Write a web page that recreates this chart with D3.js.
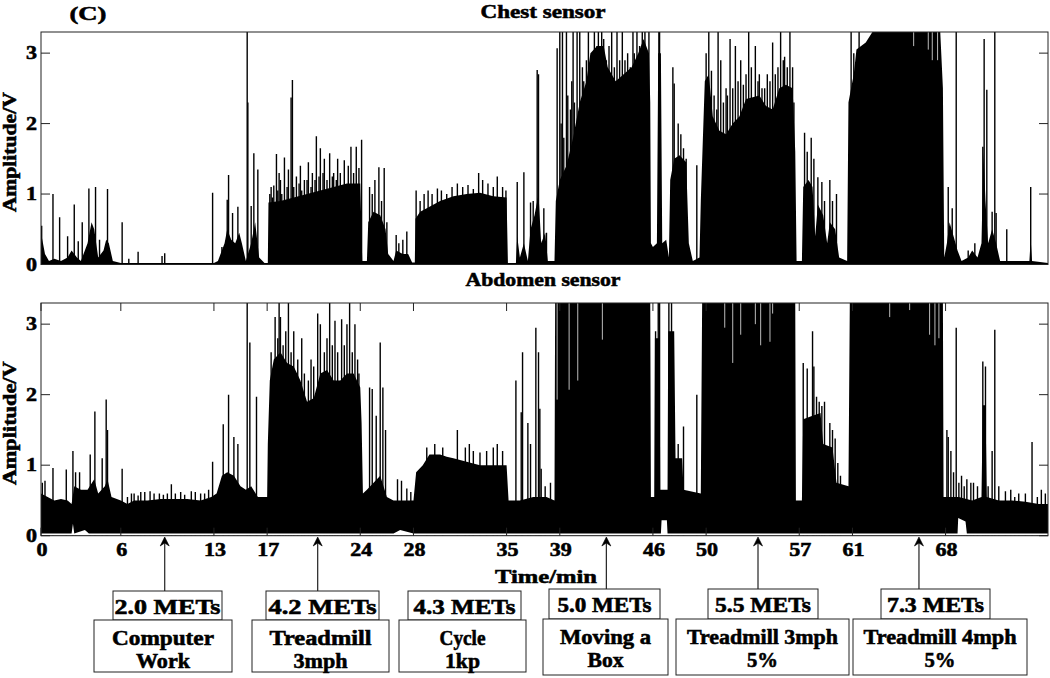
<!DOCTYPE html>
<html><head><meta charset="utf-8">
<script src="https://cdn.jsdelivr.net/npm/d3@7"></script>
<style>
body{margin:0;background:#fff}
svg{display:block}
text{font-family:"Liberation Serif","Times New Roman",serif;font-weight:bold;fill:#000;stroke:#000;stroke-width:0.55px}
</style>
</head><body>
<svg id="c" width="1050" height="678"></svg>
<script>
// ---------------- DATA ----------------
const xTicks = [0,6,13,17,24,28,35,39,46,50,57,61,68];
const yTicks = [0,1,2,3];
const timeMax = 75.7;
const ampMax = 3.3;

// Chest sensor: envelope of the dense (solid) part [time min, amplitude V]
const chestFill = [[0,0.45],[0.3,0.15],[0.6,0.05],[1.0,0.08],[1.5,0.05],[2.0,0.1],[2.3,0.2],[2.7,0.1],[3.0,0.05],[3.5,0.3],[3.8,0.6],[4.0,0.5],[4.3,0.1],[4.7,0.2],[4.9,0.35],[5.1,0.3],[5.4,0.05],[6.0,0.02],[13.0,0.02],[13.3,0.05],[13.8,0.3],[14.0,0.5],[14.3,0.35],[14.6,0.3],[14.9,0.45],[15.1,0.3],[15.4,0.05],[15.8,0.3],[16.1,0.6],[16.4,0.1],[16.8,0.02],[17.05,0.02],[17.1,0.88],[18,0.9],[19,0.95],[20,1.0],[21,1.05],[22,1.1],[23,1.15],[24,1.15],[24.15,0.05],[24.5,0.05],[24.6,0.6],[25.0,0.75],[25.5,0.7],[25.9,0.5],[26.1,0.15],[26.5,0.05],[26.7,0.2],[27.2,0.15],[27.6,0.15],[27.9,0.03],[28.1,0.03],[28.15,0.65],[28.5,0.75],[29,0.8],[30,0.9],[31,0.97],[32,1.0],[33,1.02],[34,0.97],[35.0,0.95],[35.1,0.02],[35.7,0.02],[35.8,0.4],[36.0,0.1],[36.3,0.3],[36.6,0.05],[36.8,0.5],[37.1,0.7],[37.4,1.0],[37.6,0.3],[37.9,0.45],[38.1,0.05],[38.6,0.05],[38.7,0.9],[39.0,1.2],[39.5,1.4],[40.0,1.8],[40.5,2.3],[41.0,2.6],[41.3,3.0],[41.8,3.1],[42.3,3.1],[42.6,2.8],[43.2,2.6],[43.8,2.7],[44.4,2.8],[44.9,3.0],[45.3,3.2],[45.7,3.0],[45.8,2.3],[45.85,0.3],[46.0,0.25],[46.3,0.3],[46.4,3.0],[46.6,3.0],[46.7,0.3],[47.0,0.35],[47.2,0.1],[47.3,1.2],[47.6,1.5],[48.0,1.55],[48.5,1.45],[48.7,0.3],[49.0,0.05],[49.5,0.1],[49.6,0.9],[49.9,2.6],[50.2,2.7],[50.5,2.1],[51,1.9],[51.5,1.85],[52,2.0],[52.5,2.1],[53,2.35],[54,2.4],[54.5,2.25],[55,2.2],[55.5,2.5],[56,2.55],[56.5,2.5],[56.7,1.6],[56.8,0.05],[57.2,0.05],[57.3,1.1],[57.7,1.2],[58.0,1.1],[58.2,0.4],[58.4,0.85],[58.8,0.7],[59.1,0.3],[59.3,0.6],[59.7,0.5],[60.0,0.1],[60.6,0.05],[60.7,2.3],[60.9,2.5],[61.1,2.7],[61.3,3.05],[62.0,3.15],[62.5,3.3],[67.6,3.3],[67.8,2.5],[67.9,0.1],[68.1,0.3],[68.3,0.6],[68.6,0.4],[68.9,0.2],[69.2,0.05],[69.7,0.1],[70.0,0.2],[70.4,0.1],[70.7,0.3],[70.85,1.6],[71.0,0.9],[71.2,0.3],[71.5,0.5],[71.8,0.3],[72.1,0.05],[72.5,0.05],[74.3,0.05],[74.4,0.35],[74.5,0.05],[75.7,0.02]];

// Chest sensor: individual peaks [time, amplitude]
const chestSpikes = [[0.05,0.55],[0.9,1.0],[1.4,0.67],[2.0,0.4],[2.5,0.85],[2.8,0.33],[3.1,0.6],[3.6,1.08],[4.1,1.1],[4.4,0.35],[5.0,1.07],[6.1,0.6],[6.6,0.08],[7.3,0.18],[9.1,0.12],[9.3,0.16],[12.9,1.02],[13.6,0.25],[14.0,0.92],[14.1,1.27],[14.4,0.73],[14.8,0.82],[15.5,3.3],[15.55,2.3],[15.8,0.83],[16.0,1.58],[16.3,1.35],
[17.2,1.0],[17.3,1.1],[17.4,0.95],[17.5,1.12],[17.7,1.57],[17.8,1.05],[17.9,1.3],[18.0,1.2],[18.1,1.0],[18.3,1.52],[18.5,1.1],[18.6,1.35],[18.8,2.37],[18.9,2.62],[19.0,1.1],[19.2,1.25],[19.4,1.15],[19.5,1.4],[19.6,1.05],[19.8,1.2],[20.0,1.2],[20.1,1.45],[20.3,1.1],[20.4,1.3],[20.6,1.2],[20.7,1.82],[20.9,1.25],[21.0,1.65],[21.2,1.3],[21.3,1.5],[21.5,1.2],[21.7,1.58],[21.9,1.25],[22.0,1.3],[22.2,1.2],[22.3,1.5],[22.5,1.3],[22.8,1.48],[23.1,1.4],[23.3,1.67],[23.5,1.3],[23.7,1.67],[23.9,1.37],[24.1,1.77],
[24.7,1.1],[24.9,1.0],[25.1,1.2],[25.4,1.38],[25.6,0.9],[25.8,1.37],[26.0,0.6],[26.7,0.42],[26.9,0.3],[27.2,0.35],[27.5,0.47],
[28.2,1.05],[28.5,0.9],[28.8,1.0],[29.1,1.05],[29.4,1.0],[29.8,1.08],[30.1,1.05],[30.5,1.0],[30.9,1.1],[31.3,1.15],[31.7,1.1],[32.1,1.13],[32.5,1.07],[32.9,1.3],[33.2,1.2],[33.6,1.15],[34.0,1.1],[34.3,1.25],[34.7,1.1],[34.95,1.05],
[35.8,1.17],[36.3,1.31],[36.8,0.88],[37.0,0.9],[37.3,2.76],[37.4,2.7],[37.7,0.33],[37.8,0.8],[38.0,0.45],
[38.8,3.07],[39.0,3.3],[39.1,2.0],[39.2,3.3],[39.3,1.8],[39.5,3.3],[39.6,2.4],[39.8,2.2],[39.9,2.6],[40.0,3.3],[40.1,2.3],[40.3,3.3],[40.5,3.3],[40.7,2.8],[40.8,2.6],[41.0,2.9],[41.15,3.3],[41.3,2.8],[41.6,3.3],[41.8,3.1],[41.9,3.3],[42.0,3.0],[42.15,3.3],[42.3,3.2],[42.5,2.9],[42.7,3.1],[42.9,3.3],[43.1,2.8],[43.3,3.3],[43.5,2.9],[43.7,3.3],[43.9,2.9],[44.1,3.0],[44.3,2.8],[44.5,3.3],[44.6,3.0],[44.8,3.3],[45.0,3.1],[45.2,3.3],[45.4,3.3],[45.6,3.0],[45.7,3.3],
[46.45,3.3],[46.5,3.3],[47.5,2.8],[47.6,2.57],[47.9,2.0],[48.1,1.85],[48.3,1.65],[48.5,1.5],[49.3,1.41],
[50.0,3.0],[50.2,3.3],[50.4,2.75],[50.6,2.4],[50.8,2.2],[50.9,3.3],[51.1,2.9],[51.3,2.3],[51.5,2.5],[51.6,2.4],[51.8,3.2],[52.0,2.5],[52.2,3.1],[52.4,2.6],[52.6,2.9],[52.8,2.55],[53.0,2.7],[53.2,3.3],[53.4,2.8],[53.7,3.1],[53.9,2.6],[54.0,2.7],[54.2,2.5],[54.4,2.5],[54.6,2.7],[54.8,2.6],[55.0,3.15],[55.2,2.7],[55.4,2.8],[55.6,3.3],[55.8,2.9],[55.9,2.95],[56.1,2.8],[56.3,3.3],[56.5,2.8],[56.6,2.3],
[57.4,1.87],[57.6,1.6],[57.9,1.8],[58.1,1.5],[58.4,1.24],[58.7,1.17],[58.9,0.9],[59.3,1.2],[59.5,0.9],[59.8,1.0],
[60.9,3.3],[61.1,3.0],[61.5,3.3],
[68.2,1.1],[68.5,0.8],[68.8,3.3],[69.7,0.2],[70.2,0.3],[70.8,1.67],[70.9,3.2],[71.1,2.48],[71.5,0.75],[71.7,3.3],[71.8,0.73],[72.6,0.5],[74.4,1.1]];

// Chest sensor: narrow gaps reaching down from the top inside saturated blocks
const chestDips = [[65.6,3.1],[66.7,3.05],[67.0,2.9],[67.4,2.9]];

// Abdomen sensor: envelope of the dense part
const abdomenFill = [[0,0.6],[0.5,0.55],[1,0.5],[1.5,0.52],[2,0.5],[2.3,0.45],[2.5,0.7],[3,0.65],[3.5,0.65],[4.0,0.8],[4.3,0.6],[4.8,0.7],[5.0,0.8],[5.3,0.55],[6,0.5],[6.5,0.45],[7,0.5],[8,0.5],[9,0.52],[10,0.52],[11,0.52],[12,0.5],[12.8,0.55],[13.2,0.6],[13.6,0.85],[14.0,0.9],[14.5,0.85],[15.0,0.7],[15.4,0.65],[15.8,0.7],[16.3,0.55],[17.0,0.55],[17.05,1.3],[17.2,2.2],[17.5,2.5],[18,2.6],[18.5,2.45],[19,2.4],[19.5,2.2],[20,1.9],[20.5,1.95],[21,2.3],[21.5,2.35],[22,2.2],[22.5,2.2],[23,2.3],[23.5,2.3],[24.0,2.1],[24.1,1.6],[24.2,0.6],[24.5,0.65],[25,0.75],[25.5,0.85],[26.0,0.55],[26.5,0.5],[27,0.5],[28.0,0.5],[28.2,0.9],[28.7,1.0],[29.2,1.15],[30,1.15],[30.5,1.12],[31,1.1],[32,1.05],[33,1.0],[34,1.0],[35.0,1.0],[35.15,0.5],[36,0.5],[37,0.55],[38,0.55],[38.6,0.5],[38.65,3.3],[45.8,3.3],[45.85,0.55],[46.1,0.55],[46.15,2.8],[46.5,2.8],[46.55,0.65],[47.1,0.65],[47.15,2.9],[47.6,2.9],[47.7,1.1],[48.2,1.1],[48.3,0.65],[49.6,0.6],[49.7,3.3],[56.7,3.3],[56.75,0.5],[57.2,0.5],[57.3,1.65],[58,1.7],[58.6,1.74],[58.8,1.3],[59.5,1.25],[59.8,0.75],[60.7,0.7],[60.8,3.3],[67.8,3.3],[67.85,0.55],[69,0.55],[70,0.5],[70.7,0.55],[70.8,1.85],[71.0,1.85],[71.1,0.55],[72,0.5],[73,0.5],[74,0.48],[75,0.45],[75.7,0.45]];

// Abdomen sensor: individual peaks
const abdomenSpikes = [[0.1,0.75],[0.3,0.78],[0.9,0.96],[1.9,0.94],[2.4,1.2],[2.6,0.9],[2.9,0.9],[3.7,1.15],[4.05,1.76],[4.6,1.1],[4.9,1.93],[5.0,1.5],[6.1,0.95],[6.5,0.55],[6.8,0.6],[7.0,0.6],[7.3,0.57],[7.5,0.62],[7.8,0.62],[8.2,0.63],[8.5,0.6],[8.9,0.6],[9.2,0.58],[9.5,0.6],[9.8,0.73],[10.1,0.6],[10.5,0.62],[10.8,0.58],[11.3,0.63],[11.6,0.62],[12.0,0.6],[12.3,0.6],[12.6,0.65],[12.9,1.05],[13.7,1.58],[14.1,2.0],[14.5,1.4],[14.8,1.3],[15.5,3.3],[15.7,2.74],[16.2,1.97],
[17.3,2.6],[17.6,3.1],[17.8,2.8],[17.9,3.3],[18.0,3.1],[18.2,2.7],[18.4,2.9],[18.6,3.3],[18.8,2.6],[19.0,2.9],[19.3,2.5],[19.6,2.8],[19.8,2.3],[20.1,2.2],[20.3,2.5],[20.5,2.4],[20.8,3.15],[21.0,3.0],[21.3,2.6],[21.5,2.8],[21.7,3.3],[21.9,2.7],[22.1,3.05],[22.3,2.6],[22.6,3.07],[22.8,2.7],[23.0,3.0],[23.2,3.3],[23.4,2.6],[23.6,3.0],[23.8,2.5],[23.9,2.3],
[24.7,2.1],[24.9,2.08],[25.2,1.7],[25.5,2.74],[25.7,2.1],[25.9,1.5],[26.8,0.8],[27.1,0.78],[27.5,0.67],[27.8,0.62],
[29.0,1.25],[29.6,1.3],[30.2,1.25],[31.3,1.5],[31.9,1.25],[32.2,1.3],[32.5,1.2],[33.0,1.18],[33.5,1.2],[34.0,1.25],[34.3,1.3],[34.7,1.2],
[35.7,2.2],[36.1,1.75],[36.2,2.6],[36.6,1.6],[36.8,1.3],[37.2,2.95],[37.4,2.6],[37.5,1.8],[37.6,0.95],[37.9,0.7],[38.3,0.75],
[46.2,2.9],[46.4,3.3],[46.5,3.3],[47.2,3.3],[47.4,3.3],[47.9,1.3],[48.3,1.55],[49.3,2.0],
[57.3,2.45],[57.6,2.37],[58.0,2.9],[58.1,2.4],[58.3,1.97],[58.5,1.9],[58.7,1.84],[58.9,1.9],[59.3,1.6],[59.5,1.5],[59.7,1.38],[59.9,1.03],[60.1,0.85],
[68.1,1.5],[68.2,1.4],[68.4,1.2],[68.6,0.9],[68.8,2.95],[69.0,0.75],[69.2,0.85],[69.4,0.7],[69.6,0.8],[69.9,0.75],[70.1,0.75],[70.4,0.7],[70.8,2.47],[71.0,2.4],[71.2,0.7],[71.5,1.2],[71.7,2.92],[72.0,0.7],[72.5,0.63],[72.9,0.65],[73.2,0.55],[73.5,0.6],[74.0,0.6],[74.5,1.33],[74.9,0.55],[75.2,0.65],[75.5,0.6]];

// Abdomen sensor: gaps from the top inside saturated blocks
const abdomenDips = [[38.8,1.93],[39.7,2.07],[40.35,2.2],[42.2,2.78],[51.4,2.95],[52.0,2.45],[52.6,2.85],[53.7,3.0],[54.1,2.7],[54.8,2.75],[55.0,3.15],[63.8,3.1],[65.3,3.2],[66.8,2.85],[67.2,2.7],[67.5,2.8]];

// Abdomen sensor: signal minimum above zero (white floor)
const abdomenFloor = [[0,0.03],[2.3,0.03],[2.4,0.17],[2.5,0.03],[3.3,0.08],[3.6,0.03],[26.5,0.03],[27,0.08],[28,0.03],[46.6,0.03],[46.65,0.22],[47.05,0.22],[47.1,0.03],[68.9,0.03],[68.95,0.25],[69.5,0.2],[69.6,0.03],[75.7,0.03]];

// Annotations
const metsLabels = ["2.0 METs","4.2 METs","4.3 METs","5.0 METs","5.5 METs","7.3 METs"];
const activityLines = [["Computer","Work"],["Treadmill","3mph"],["Cycle","1kp"],["Moving a","Box"],["Treadmill 3mph","5%"],["Treadmill 4mph","5%"]];
const arrowTimes = [9.3,20.8,null,42.5,53.9,66.0];

// ---------------- LAYOUT ----------------
const left = 41, right = 1048;
const panels = [
  {top:32, bottom:264.5, fill:chestFill, spikes:chestSpikes, dips:chestDips, floor:null,
   title:"Chest sensor", titleY:18, titleW:125, ylabelW:120, xticks:false},
  {top:303, bottom:535.7, fill:abdomenFill, spikes:abdomenSpikes, dips:abdomenDips, floor:abdomenFloor,
   title:"Abdomen sensor", titleY:286, titleW:155, ylabelW:124, xticks:true}
];
const boxLayout = [
  {m:[113,222], d:[94,232], mt:591, mb:620, db:672, mw:106, dw:[102,54]},
  {m:[266,379], d:[252,389], mt:591, mb:620, db:672, mw:108, dw:[102,54]},
  {m:[408,521], d:[399,526], mt:591, mb:620, db:672, mw:102, dw:[46,35]},
  {m:[549,660], d:[543,668], mt:589, mb:619, db:675, mw:94,  dw:[91,36]},
  {m:[708,818], d:[676,849], mt:589, mb:619, db:675, mw:96,  dw:[151,31]},
  {m:[881,990], d:[853,1027], mt:589, mb:619, db:675, mw:97, dw:[153,31]}
];

const svg = d3.select("#c");
const x = d3.scaleLinear().domain([0,timeMax]).range([left,right]);

svg.append("text").attr("x",88).attr("y",20).attr("text-anchor","middle")
  .attr("font-size",19).attr("textLength",37).attr("lengthAdjust","spacingAndGlyphs").text("(C)");

panels.forEach((p,i)=>{
  const y = d3.scaleLinear().domain([0,ampMax]).range([p.bottom,p.top]);
  const g = svg.append("g");
  const cid = "clip"+i;
  svg.append("clipPath").attr("id",cid).append("rect")
    .attr("x",left).attr("y",p.top).attr("width",right-left).attr("height",p.bottom-p.top);
  const plot = g.append("g").attr("clip-path",`url(#${cid})`);

  const area = d3.area().x(d=>x(d[0])).y0(y(0)).y1(d=>y(d[1]));
  plot.append("path").datum(p.fill).attr("d",area).attr("fill","#000");

  plot.selectAll("line.sp").data(p.spikes).join("line").attr("class","sp")
    .attr("x1",d=>x(d[0])).attr("x2",d=>x(d[0]))
    .attr("y1",y(0)).attr("y2",d=>y(d[1]))
    .attr("stroke","#000").attr("stroke-width",1.4);

  plot.selectAll("line.dp").data(p.dips).join("line").attr("class","dp")
    .attr("x1",d=>x(d[0])).attr("x2",d=>x(d[0]))
    .attr("y1",y(ampMax)).attr("y2",d=>y(d[1]))
    .attr("stroke","#bbb").attr("stroke-width",1);

  if(p.floor){
    plot.append("path").datum(p.floor).attr("d",area).attr("fill","#fff");
  }

  g.append("rect").attr("x",left).attr("y",p.top).attr("width",right-left).attr("height",p.bottom-p.top)
    .attr("fill","none").attr("stroke","#222").attr("stroke-width",1);

  yTicks.forEach(v=>{
    g.append("line").attr("x1",left).attr("x2",left+9).attr("y1",y(v)).attr("y2",y(v)).attr("stroke","#222");
    g.append("line").attr("x1",right-9).attr("x2",right).attr("y1",y(v)).attr("y2",y(v)).attr("stroke","#222");
    g.append("text").attr("x",37).attr("y",y(v)).attr("dy","0.34em").attr("text-anchor","end")
      .attr("font-size",18).attr("textLength",11).attr("lengthAdjust","spacingAndGlyphs").text(v);
  });

  if(p.xticks){
    xTicks.forEach(v=>{
      g.append("line").attr("x1",x(v)).attr("x2",x(v)).attr("y1",p.bottom).attr("y2",p.bottom-8).attr("stroke","#222");
      g.append("line").attr("x1",x(v)).attr("x2",x(v)).attr("y1",p.top).attr("y2",p.top+8).attr("stroke","#222");
      const s = String(v);
      g.append("text").attr("x",x(v)+1).attr("y",556).attr("text-anchor","middle")
        .attr("font-size",18).attr("textLength",11*s.length).attr("lengthAdjust","spacingAndGlyphs").text(s);
    });
  }

  svg.append("text").attr("x",543).attr("y",p.titleY).attr("text-anchor","middle")
    .attr("font-size",19).attr("textLength",p.titleW).attr("lengthAdjust","spacingAndGlyphs").text(p.title);

  svg.append("text").attr("transform",`translate(16,${(p.top+p.bottom)/2+4}) rotate(-90)`)
    .attr("text-anchor","middle").attr("font-size",19)
    .attr("textLength",p.ylabelW).attr("lengthAdjust","spacingAndGlyphs").text("Amplitude/V");
});

svg.append("text").attr("x",546).attr("y",583).attr("text-anchor","middle")
  .attr("font-size",19).attr("textLength",102).attr("lengthAdjust","spacingAndGlyphs").text("Time/min");

const ann = svg.append("g");
metsLabels.forEach((lab,i)=>{
  const b = boxLayout[i];
  ann.append("rect").attr("x",b.m[0]).attr("y",b.mt).attr("width",b.m[1]-b.m[0]).attr("height",b.mb-b.mt)
    .attr("fill","#fff").attr("stroke","#222").attr("stroke-width",1);
  ann.append("rect").attr("x",b.d[0]).attr("y",b.mb).attr("width",b.d[1]-b.d[0]).attr("height",b.db-b.mb)
    .attr("fill","#fff").attr("stroke","#222").attr("stroke-width",1);
  const cm = (b.m[0]+b.m[1])/2, cd = (b.d[0]+b.d[1])/2;
  ann.append("text").attr("x",cm).attr("y",b.mt+23).attr("text-anchor","middle").attr("font-size",20)
    .attr("textLength",b.mw).attr("lengthAdjust","spacingAndGlyphs").text(lab);
  activityLines[i].forEach((ln,j)=>{
    ann.append("text").attr("x",cd).attr("y",b.mb+25+j*23).attr("text-anchor","middle").attr("font-size",20)
      .attr("textLength",b.dw[j]).attr("lengthAdjust","spacingAndGlyphs").text(ln);
  });
  if(arrowTimes[i]!==null){
    const ax = x(arrowTimes[i]);
    const tip = 537;
    ann.append("line").attr("x1",ax).attr("x2",ax).attr("y1",b.mt).attr("y2",tip+4).attr("stroke","#222").attr("stroke-width",1.2);
    ann.append("path").attr("d",`M${ax-4.5},${tip+9} L${ax},${tip} L${ax+4.5},${tip+9} L${ax},${tip+6} Z`)
      .attr("fill","#000").attr("stroke","#000").attr("stroke-width",0.6);
  }
});
</script>
</body></html>
